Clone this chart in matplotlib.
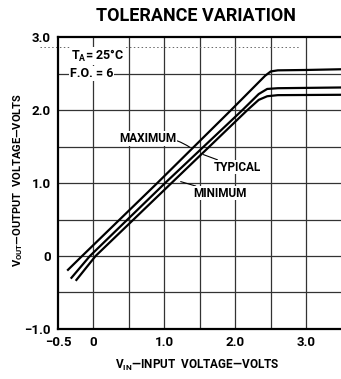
import matplotlib
matplotlib.use("Agg")
import matplotlib.pyplot as plt

# Data
max_x = [-0.37, -0.16, 0.90, 1.94, 2.42, 2.50, 2.60, 3.00, 3.50]
max_y = [-0.20, 0.00, 1.00, 2.00, 2.47, 2.53, 2.545, 2.55, 2.56]
typ_x = [-0.32, -0.05, 1.01, 2.10, 2.33, 2.45, 2.60, 3.50]
typ_y = [-0.31, 0.00, 1.00, 2.00, 2.22, 2.29, 2.30, 2.31]
min_x = [-0.25, 0.03, 1.10, 2.17, 2.33, 2.45, 2.60, 3.50]
min_y = [-0.34, 0.00, 1.00, 2.00, 2.14, 2.19, 2.205, 2.21]

x_ticks = [-0.5, 0, 1.0, 2.0, 3.0]
x_labels = ["\u22120.5", "0", "1.0", "2.0", "3.0"]
y_ticks = [-1.0, 0, 1.0, 2.0, 3.0]
y_labels = ["\u22121.0", "0", "1.0", "2.0", "3.0"]

plt.rcParams['font.family'] = ["Roboto", "DejaVu Sans"]
plt.rcParams['mathtext.fontset'] = 'custom'
plt.rcParams['mathtext.rm'] = 'Roboto:bold'
plt.rcParams['mathtext.bf'] = 'Roboto:bold'
plt.rcParams['mathtext.default'] = 'bf'

fig = plt.figure(figsize=(3.41, 3.79), dpi=100)
ax = fig.add_axes([0.170, 0.132, 0.832, 0.770])
ax.set_xlim(-0.5, 3.5)
ax.set_ylim(-1.0, 3.0)

# grid
for gx in [0, 0.5, 1.0, 1.5, 2.0, 2.5, 3.0]:
    ax.axvline(gx, color="#333333", lw=0.9, zorder=1)
for gy in [-0.5, 0, 0.5, 1.0, 1.5, 2.0, 2.5]:
    ax.axhline(gy, color="#333333", lw=0.9, zorder=1)
ax.plot([-0.75, 2.9], [2.86, 2.86], ls=(0, (1.5, 2.5)), color="#666666", lw=0.7,
        clip_on=False, zorder=1)

for xs, ys in [(max_x, max_y), (typ_x, typ_y), (min_x, min_y)]:
    ax.plot(xs, ys, color="black", lw=1.6, solid_capstyle="butt",
            solid_joinstyle="round", zorder=3)

for s in ["left", "bottom", "top"]:
    ax.spines[s].set_linewidth(1.6)
ax.spines["right"].set_visible(False)

ax.set_xticks(x_ticks)
ax.set_xticklabels(x_labels)
ax.set_yticks(y_ticks)
ax.set_yticklabels(y_labels)
ax.tick_params(length=0, labelsize=9.5, pad=5)
for t in ax.get_xticklabels() + ax.get_yticklabels():
    t.set_fontweight("bold")

# annotations
box = dict(facecolor="white", edgecolor="none", pad=0.5)
ax.text(-0.32, 2.74, r"T$_\mathregular{A}$= 25°C", fontsize=9, fontweight="bold",
        va="center", ha="left", zorder=5, bbox=box)
ax.text(-0.33, 2.50, "F.O. = 6", fontsize=9, fontweight="bold",
        va="center", ha="left", zorder=5, bbox=box)

arrow = dict(arrowstyle="-", lw=0.8, color="black", shrinkA=0, shrinkB=0)
ax.annotate("MAXIMUM", xy=(1.36, 1.49), xytext=(0.77, 1.61), fontsize=8.5,
            fontweight="bold", ha="center", va="center", zorder=5, bbox=box,
            arrowprops=dict(arrow, connectionstyle="arc3,rad=-0.2"))
ax.annotate("TYPICAL", xy=(1.55, 1.39), xytext=(1.69, 1.22), fontsize=8.5,
            fontweight="bold", ha="left", va="center", zorder=5, bbox=box,
            arrowprops=arrow)
ax.annotate("MINIMUM", xy=(1.23, 1.02), xytext=(1.41, 0.86), fontsize=8.5,
            fontweight="bold", ha="left", va="center", zorder=5, bbox=box,
            arrowprops=arrow)

fig.text(0.575, 0.958, "TOLERANCE VARIATION", fontsize=13, fontweight="bold",
         ha="center", va="center")
ax.set_xlabel(r"V$_\mathregular{IN}$" + "\u2014INPUT  VOLTAGE\u2014VOLTS",
              fontsize=8.5, fontweight="bold")
ax.xaxis.set_label_coords(0.49, -0.098)
ax.set_ylabel(r"V$_\mathregular{OUT}$" + "\u2014OUTPUT  VOLTAGE\u2014VOLTS",
              fontsize=8, fontweight="bold")
ax.yaxis.set_label_coords(-0.115, 0.51)

fig.savefig("out.png", dpi=100)
